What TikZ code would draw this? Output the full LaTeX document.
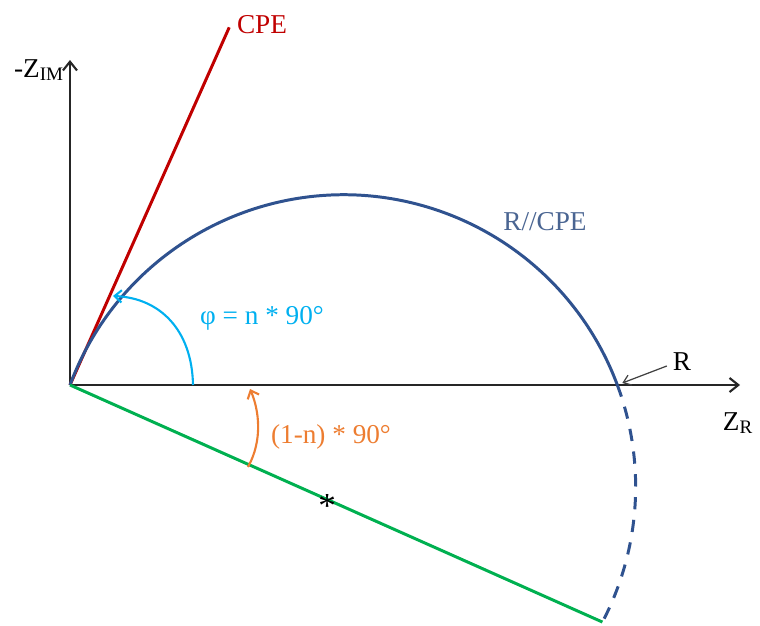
\documentclass[tikz,border=0pt]{standalone}
\usepackage{fontspec}
\setmainfont{Liberation Serif}
\usepackage{xcolor}
\usepackage{tikz}
\usetikzlibrary{positioning,arrows.meta,calc}

\definecolor{cpered}{HTML}{C00000}
\definecolor{arcblue}{HTML}{2F528F}
\definecolor{labblue}{HTML}{4A6592}
\definecolor{phicyan}{HTML}{00B0F0}
\definecolor{angorange}{HTML}{ED7D31}
\definecolor{diagreen}{HTML}{00B050}

\tikzset{
	axis/.style={line width=1.6pt,black!85,-{Straight Barb[length=5pt,width=8pt,line width=1.2pt]}},
	curve/.style={line width=1.7pt},
	lab/.style={font=\fontsize{15.5}{18}\selectfont,inner sep=1pt},
	anglearrow/.style={line width=1.2pt,-{Straight Barb[length=4pt,width=7pt]}}
}

\begin{document}
\begin{tikzpicture}
			
			\useasboundingbox (-1.4,-4.82) rectangle (13.8,7.7);
			
			\coordinate (O) at (0,0);
			\coordinate (xend) at (13.4,0);
			\coordinate (yend) at (0,6.5);
			\coordinate (C) at (-20.4:5.84);
			\coordinate (R) at ($(C)+(20.4:5.84)$);
			\coordinate (D) at ($(C)+(-27.6:5.84)$);
			\coordinate (cpeend) at (66:7.83);
			
			\draw[axis] (O)--(xend);
			\draw[axis] (O)--(yend);
			
			\draw[cpered,curve] (O)--(cpeend);
			
			\draw[arcblue,curve] (O) arc[start angle=159.6,end angle=20.4,radius=5.84];
			\draw[arcblue,curve,dash pattern=on 7pt off 6pt] (R) arc[start angle=20.4,end angle=-27.6,radius=5.84];
			
			\draw[diagreen,curve] (O)--(D) node[pos=0.483,black,inner sep=0pt,yshift=-3.5pt,font=\fontsize{20}{20}\selectfont] (centre) {*};
			
			\coordinate (phistart) at (2.46,0);
			\coordinate (phiend) at (0.86,1.78);
			\draw[anglearrow,phicyan] (phistart) .. controls (2.44,1.1) and (1.8,1.74) .. (phiend);
			
			\coordinate (nstart) at (3.56,-1.64);
			\coordinate (nend) at (3.6,-0.08);
			\draw[anglearrow,angorange] (nstart) .. controls (3.86,-1.1) and (3.78,-0.5) .. (nend);
			
			\node[lab,cpered] (cpelab) at (3.84,7.2) {CPE};
			\node[lab] (yaxlab) at (-0.62,6.3) {-Z\textsubscript{IM}};
			\node[lab] (xaxlab) at (13.36,-0.76) {Z\textsubscript{R}};
			\node[lab,labblue] (rcpelab) at (9.5,3.26) {R//CPE};
			\node[lab,phicyan] (philab) at (3.84,1.34) {φ = n * 90°};
			\node[lab,angorange] (nlab) at (5.22,-1.04) {(1-n) * 90°};
			\node[lab] (rlab) at (12.24,0.46) {R};
			
			\draw[black!75,line width=0.7pt,-{Straight Barb[length=4pt,width=6pt]}] (rlab.west) ++(-0.08,-0.08) coordinate (rtail) -- ($(R)+(0.1,0.04)$);
			
		\end{tikzpicture}
\end{document}
